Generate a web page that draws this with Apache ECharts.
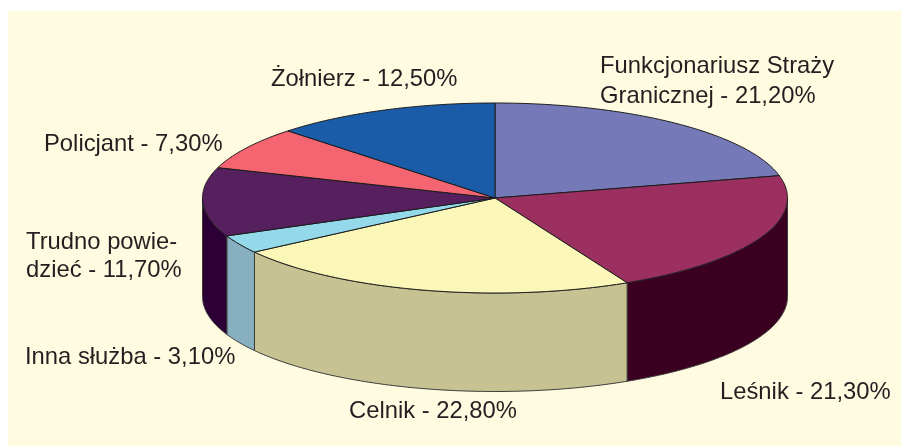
<!DOCTYPE html>
<html>
<head>
<meta charset="utf-8">
<style>
  html, body { margin: 0; padding: 0; background: #fff; }
  #chart { width: 901px; height: 446px; }
</style>
<script src="https://cdn.jsdelivr.net/npm/echarts@6/dist/echarts.min.js"></script>
</head>
<body>
<div id="chart"></div>
<script>
// values run clockwise from 12 o'clock
const categories = ["Funkcjonariusz Straży\nGranicznej", "Leśnik", "Celnik", "Inna służba", "Trudno powie-\ndzieć", "Policjant", "Żołnierz"];
const values = [21.2, 21.3, 22.8, 3.1, 11.7, 7.3, 12.5];

const topColors = ["#7679b8", "#9a2f60", "#fbf7b9", "#93d9ea", "#561f5e", "#f46571", "#1a5ca8"];
const wallColors = ["#5c5f8f", "#3b0020", "#c6c291", "#86afc0", "#2c0035", "#b04a52", "#123f75"];
const labelPos = [[600, 51], [720, 377], [349, 396], [25, 342], [26, 228], [44, 129], [271, 64]];
const labelLineHeight = [30, 30, 30, 30, 28, 30, 30];

// pie geometry
const cx = 495, cy = 198, rx = 292.5, ry = 95, depth = 98.5;

const total = values.reduce((a, b) => a + b, 0);

function pt(a, dy) {
    return [cx + rx * Math.sin(a), cy - ry * Math.cos(a) + (dy || 0)];
}

function arc(from, to, dy) {
    const pts = [];
    const n = Math.max(2, Math.ceil((to - from) / 0.01));
    for (let i = 0; i <= n; i++) {
        pts.push(pt(from + (to - from) * i / n, dy));
    }
    return pts;
}

function slices() {
    let sum = 0;
    return values.map((v) => {
        const from = sum / total * Math.PI * 2;
        sum += v;
        return [from, sum / total * Math.PI * 2];
    });
}

function renderPie(params, api) {
    const children = [];
    const parts = slices();

    // side walls, only the front half of the ellipse shows
    parts.forEach(([from, to], i) => {
        const a = Math.max(from, Math.PI / 2);
        const b = Math.min(to, Math.PI * 1.5);
        if (b <= a) return;
        const points = arc(a, b, 0).concat(arc(a, b, depth).reverse());
        children.push({
            type: "polygon",
            shape: { points },
            style: { fill: wallColors[i], stroke: "#3a3a3a", lineWidth: 1 }
        });
    });

    // top face
    parts.forEach(([from, to], i) => {
        const points = [[cx, cy]].concat(arc(from, to, 0));
        children.push({
            type: "polygon",
            shape: { points },
            style: { fill: topColors[i], stroke: "#1c1c1c", lineWidth: 1, lineJoin: "round" }
        });
    });

    // labels
    categories.forEach((name, i) => {
        children.push({
            type: "text",
            x: labelPos[i][0],
            y: labelPos[i][1],
            style: {
                text: name + " - " + values[i].toFixed(2).replace(".", ",") + "%",
                fill: "#231f20",
                font: '23.8px "Liberation Sans", Arial, sans-serif',
                lineHeight: labelLineHeight[i],
                textAlign: "left",
                textVerticalAlign: "top"
            }
        });
    });

    return { type: "group", children };
}

const chart = echarts.init(document.getElementById("chart"), null, { renderer: "canvas" });
chart.setOption({
    animation: false,
    backgroundColor: "#fff",
    graphic: [{
        type: "rect",
        z: -1,
        shape: { x: 8, y: 11, width: 893, height: 435 },
        style: { fill: "#fefbe0" }
    }],
    series: [{
        type: "custom",
        coordinateSystem: "none",
        data: [values],
        renderItem: renderPie
    }]
});
</script>
</body>
</html>
